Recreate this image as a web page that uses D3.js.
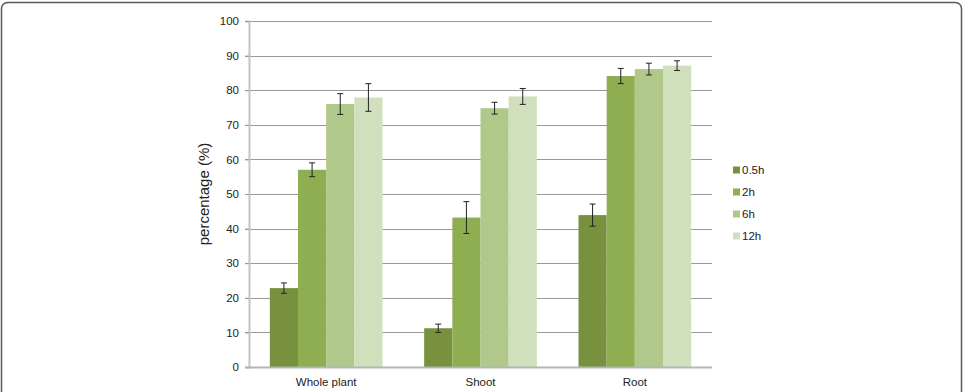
<!DOCTYPE html>
<html>
<head>
<meta charset="utf-8">
<script src="https://cdn.jsdelivr.net/npm/d3@7"></script>
<style>
  html, body { margin: 0; padding: 0; background: #fff; }
  svg { display: block; font-family: "Liberation Sans", Arial, Helvetica, sans-serif; }
</style>
</head>
<body>
<svg id="chart" width="967" height="392"></svg>
<script>
const categories = ["Whole plant", "Shoot", "Root"];
const seriesNames = ["0.5h", "2h", "6h", "12h"];
const values = {
  "0.5h": [22.8, 11.2, 43.9],
  "2h":   [57.0, 43.2, 84.1],
  "6h":   [76.0, 74.8, 86.1],
  "12h":  [77.9, 78.2, 87.1]
};
const errors = {
  "0.5h": [1.5, 1.2, 3.2],
  "2h":   [2.0, 4.6, 2.2],
  "6h":   [3.0, 1.7, 1.7],
  "12h":  [4.0, 2.3, 1.4]
};
const yTicks = [0, 10, 20, 30, 40, 50, 60, 70, 80, 90, 100];
const colors = ["#77913e", "#8fae52", "#b0c98a", "#d0dfbc"];

const svg = d3.select("#chart");

// frame
svg.append("rect")
  .attr("x", 1.5).attr("y", 2.5).attr("width", 960).attr("height", 420)
  .attr("rx", 6).attr("ry", 6)
  .attr("fill", "none").attr("stroke", "#5a5a5a").attr("stroke-width", 1.5);

const x0 = d3.scaleBand().domain(categories).range([249, 712]).paddingInner(0.27).paddingOuter(0.135);
const x1 = d3.scaleBand().domain(seriesNames).range([0, x0.bandwidth()]).padding(0);
const y = d3.scaleLinear().domain([0, 100]).range([367, 21]);

// gridlines
svg.append("g").selectAll("line").data(yTicks.filter(d => d > 0)).join("line")
  .attr("x1", 245).attr("x2", 712)
  .attr("y1", d => Math.round(y(d)) + 0.5).attr("y2", d => Math.round(y(d)) + 0.5)
  .attr("stroke", "#9a9a9a").attr("stroke-width", 1);

// y axis
const yAxis = d3.axisLeft(y).tickValues(yTicks).tickSize(4).tickPadding(6);
const gy = svg.append("g").attr("transform", "translate(249,0)").attr("color", "#222").call(yAxis);
gy.select(".domain").attr("stroke", "#c4c4c4").attr("stroke-width", 2);
gy.selectAll(".tick line").attr("stroke", "#9a9a9a");
gy.selectAll(".tick text").attr("font-size", 11.5).attr("fill", "#222")
  .attr("font-family", "'Liberation Sans', Arial, sans-serif");

// bars
const groups = svg.append("g").selectAll("g").data(categories).join("g")
  .attr("transform", d => `translate(${x0(d)},0)`);

groups.selectAll("rect").data((c, i) => seriesNames.map((s, j) => ({s, j, v: values[s][i], e: errors[s][i]})))
  .join("rect")
  .attr("x", d => x1(d.s))
  .attr("width", x1.bandwidth())
  .attr("y", d => y(d.v))
  .attr("height", d => y(0) - y(d.v))
  .attr("fill", d => colors[d.j]);

// error bars
const eb = groups.selectAll("g.err").data((c, i) => seriesNames.map((s, j) => ({s, j, v: values[s][i], e: errors[s][i]})))
  .join("g").attr("class", "err");
eb.append("line")
  .attr("x1", d => x1(d.s) + x1.bandwidth() / 2).attr("x2", d => x1(d.s) + x1.bandwidth() / 2)
  .attr("y1", d => y(d.v + d.e)).attr("y2", d => y(d.v - d.e))
  .attr("stroke", "#222").attr("stroke-width", 1);
eb.append("line")
  .attr("x1", d => x1(d.s) + x1.bandwidth() / 2 - 3).attr("x2", d => x1(d.s) + x1.bandwidth() / 2 + 3)
  .attr("y1", d => y(d.v + d.e)).attr("y2", d => y(d.v + d.e))
  .attr("stroke", "#222").attr("stroke-width", 1);
eb.append("line")
  .attr("x1", d => x1(d.s) + x1.bandwidth() / 2 - 3).attr("x2", d => x1(d.s) + x1.bandwidth() / 2 + 3)
  .attr("y1", d => y(d.v - d.e)).attr("y2", d => y(d.v - d.e))
  .attr("stroke", "#222").attr("stroke-width", 1);

// x axis
const xAxis = d3.axisBottom(x0).tickSize(0).tickPadding(11);
const gx = svg.append("g").attr("transform", "translate(0,367)").attr("color", "#222").call(xAxis);
gx.select(".domain").attr("d", "M245,0.5H712").attr("stroke", "#b5b5b5").attr("stroke-width", 2);
gx.selectAll(".tick text").attr("font-size", 11.5).attr("fill", "#222")
  .attr("font-family", "'Liberation Sans', Arial, sans-serif");

// y label
svg.append("text")
  .attr("transform", "translate(209,194) rotate(-90)")
  .attr("text-anchor", "middle")
  .attr("font-size", 15).attr("fill", "#222")
  .text("percentage (%)");

// legend
const leg = svg.append("g").selectAll("g").data(seriesNames).join("g")
  .attr("transform", (d, i) => `translate(733,${170 + i * 22})`);
leg.append("rect").attr("x", 0).attr("y", -3.5).attr("width", 7).attr("height", 7)
  .attr("fill", (d, i) => colors[i]);
leg.append("text").attr("x", 9).attr("y", 0).attr("dy", "0.35em")
  .attr("font-size", 11.5).attr("fill", "#222").text(d => d);
</script>
</body>
</html>
